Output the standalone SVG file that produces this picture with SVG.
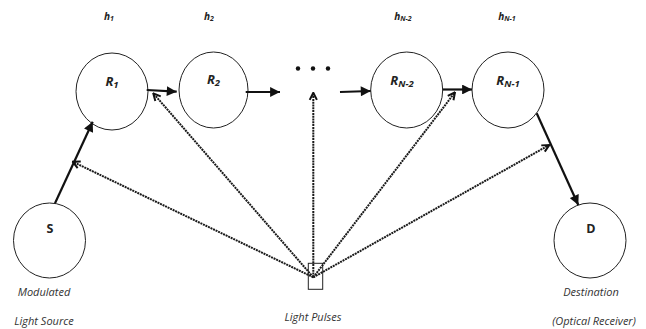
<svg xmlns="http://www.w3.org/2000/svg" width="646" height="329" viewBox="0 0 646 329">
<style>
.node{fill:#fff;stroke:#222;stroke-width:1}
.lbl{font-family:"Open Sans","Liberation Sans",sans-serif;font-weight:bold;font-style:italic;font-size:13px;fill:#222;text-anchor:middle}
.lblb{font-family:"Open Sans","Liberation Sans",sans-serif;font-weight:bold;font-size:12.5px;fill:#222;text-anchor:middle}
.h{font-family:"Open Sans","Liberation Sans",sans-serif;font-weight:bold;font-style:italic;font-size:10px;fill:#222;text-anchor:middle}
.cap{font-family:"Open Sans","Liberation Sans",sans-serif;font-style:italic;font-size:11px;fill:#333;text-anchor:middle}
.solid{stroke:#111;stroke-width:2.2;fill:none}
.dot{stroke:#1a1a1a;stroke-width:2;stroke-dasharray:2 0.8;fill:none}
</style>
<defs>
<marker id="ah" viewBox="0 0 10 10" refX="10" refY="5" markerWidth="5" markerHeight="4.5" orient="auto" markerUnits="strokeWidth">
<path d="M0,0 L10,5 L0,10 z" fill="#111"/>
</marker>
<marker id="oh" viewBox="0 0 10 10" refX="9" refY="5" markerWidth="4.5" markerHeight="5" orient="auto" markerUnits="strokeWidth">
<path d="M1,1 L9,5 L1,9" fill="none" stroke="#111" stroke-width="2.2"/>
</marker>
</defs>
<g id="labels-h">
<text class="h" x="109" y="20">h<tspan font-size="7" dy="1">1</tspan></text>
<text class="h" x="209" y="20">h<tspan font-size="7" dy="1">2</tspan></text>
<text class="h" x="403" y="20">h<tspan font-size="7" dy="1">N-2</tspan></text>
<text class="h" x="507" y="20">h<tspan font-size="7" dy="1">N-1</tspan></text>
</g>
<g id="R1"><ellipse class="node" cx="112" cy="91.5" rx="36" ry="38.5"/><text class="lbl" x="112" y="86">R<tspan font-size="9.5" dy="2">1</tspan></text></g>
<g id="R2"><ellipse class="node" cx="213.5" cy="90" rx="34.5" ry="38"/><text class="lbl" x="213.5" y="84">R<tspan font-size="9.5" dy="2">2</tspan></text></g>
<g id="RN2"><ellipse class="node" cx="406.7" cy="90" rx="36" ry="38"/><text class="lbl" x="402" y="85">R<tspan font-size="9.5" dy="2">N-2</tspan></text></g>
<g id="RN1"><ellipse class="node" cx="508" cy="90" rx="36" ry="38"/><text class="lbl" x="508" y="85">R<tspan font-size="9.5" dy="2">N-1</tspan></text></g>
<g id="S"><ellipse class="node" cx="49.5" cy="240.5" rx="36" ry="37.5"/><text class="lblb" x="50" y="233">S</text></g>
<g id="D"><ellipse class="node" cx="590" cy="240.5" rx="36" ry="37.5"/><text class="lblb" x="591" y="233">D</text></g>
<g id="dots">
<circle cx="298" cy="68.5" r="2.2" fill="#111"/>
<circle cx="313" cy="68.5" r="2.2" fill="#111"/>
<circle cx="328" cy="68.5" r="2.2" fill="#111"/>
</g>
<g id="pulse"><rect x="308.3" y="263.3" width="14.4" height="26" fill="none" stroke="#222" stroke-width="1"/></g>
<g id="connectors">
<line class="solid" x1="146.7" y1="90" x2="176.7" y2="91.7" marker-end="url(#ah)"/>
<line class="solid" x1="245.7" y1="92" x2="280" y2="92" marker-end="url(#ah)"/>
<line class="solid" x1="340" y1="92" x2="370.7" y2="91" marker-end="url(#ah)"/>
<line class="solid" x1="442.7" y1="89.5" x2="472" y2="89.5" marker-end="url(#ah)"/>
<line class="solid" x1="55" y1="203.3" x2="92.7" y2="121.7" marker-end="url(#ah)"/>
<line class="solid" x1="536.7" y1="113.3" x2="578.3" y2="205" marker-end="url(#ah)"/>
<line class="dot" x1="313.3" y1="277.3" x2="72.7" y2="161.7" marker-end="url(#oh)"/>
<line class="dot" x1="313.3" y1="277.3" x2="153.3" y2="93.3" marker-end="url(#oh)"/>
<line class="dot" x1="313.3" y1="277.3" x2="313.3" y2="92.7" marker-end="url(#oh)"/>
<line class="dot" x1="313.3" y1="277.3" x2="455" y2="92.3" marker-end="url(#oh)"/>
<line class="dot" x1="313.3" y1="277.3" x2="549.3" y2="145" marker-end="url(#oh)"/>
</g>
<g id="captions">
<text class="cap" x="44" y="296">Modulated</text>
<text class="cap" x="44" y="325">Light Source</text>
<text class="cap" x="313" y="321">Light Pulses</text>
<text class="cap" x="591" y="296">Destination</text>
<text class="cap" x="594" y="325">(Optical Receiver)</text>
</g>
</svg>
